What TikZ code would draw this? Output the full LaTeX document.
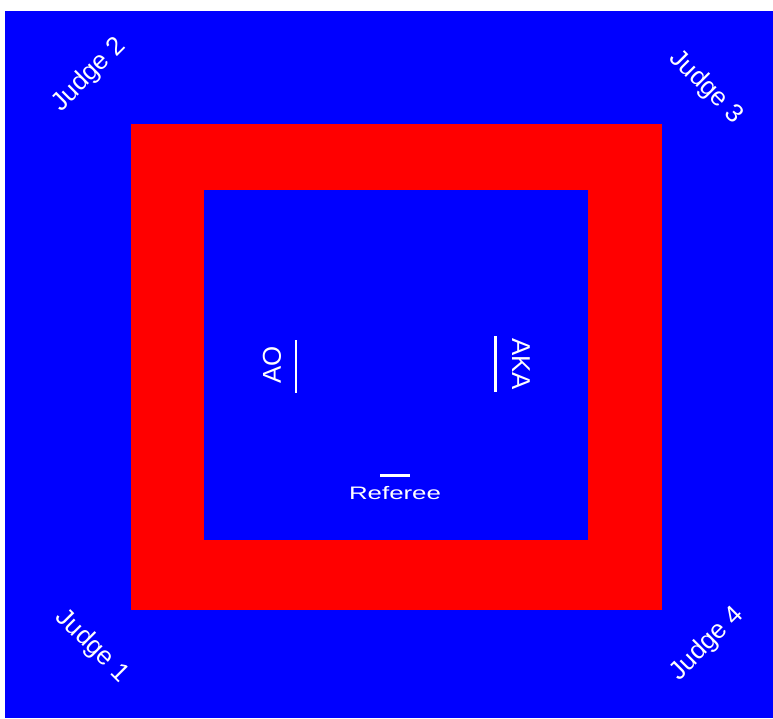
\documentclass[tikz,border=0pt]{standalone}
\usepackage{fontspec}
\setmainfont{Liberation Sans}
\definecolor{matblue}{RGB}{0,0,255}
\definecolor{matred}{RGB}{255,0,0}

\begin{document}
\begin{tikzpicture}[x=0.02cm, y=-0.02cm,
  label/.style={text=white, inner sep=0pt, font=\fontsize{14.7}{16}\selectfont},
  startline/.style={draw=white, line width=1.7pt}]

  % ───────── Frame (picture size, pixel units, y down) ─────────
  \useasboundingbox (0, 0) rectangle (773, 718);
  \fill[white] (0, 0) rectangle (773, 718);

  % ───────── Outer safety area ─────────
  \fill[matblue] (5, 11) rectangle (773, 718);

  % ───────── Red border band ─────────
  \fill[matred] (131, 124) rectangle (662, 610);

  % ───────── Inner competition area ─────────
  \fill[matblue] (204, 190) rectangle (588, 540);

  % ───────── Starting lines ─────────
  \draw[startline] (296, 340) -- (296, 393);   % AO line
  \draw[startline] (495, 336) -- (495, 392);   % AKA line
  \draw[startline] (380, 475) -- (410, 475);   % referee line

  \node[label, rotate=90]  (ao)      at (272, 365) {AO};
  \node[label, rotate=-90] (aka)     at (521, 364) {AKA};
  \node[label, yscale=0.7] (referee) at (395, 493) {Referee};

  % ───────── Judges in the corners ─────────
  \node[label, rotate=45]  (judgeB) at (89, 75)   {Judge 2};
  \node[label, rotate=-45] (judgeC) at (706, 87)  {Judge 3};
  \node[label, rotate=-45] (judgeA) at (92, 646)  {Judge 1};
  \node[label, rotate=45]  (judgeD) at (707, 644) {Judge 4};

\end{tikzpicture}
\end{document}
